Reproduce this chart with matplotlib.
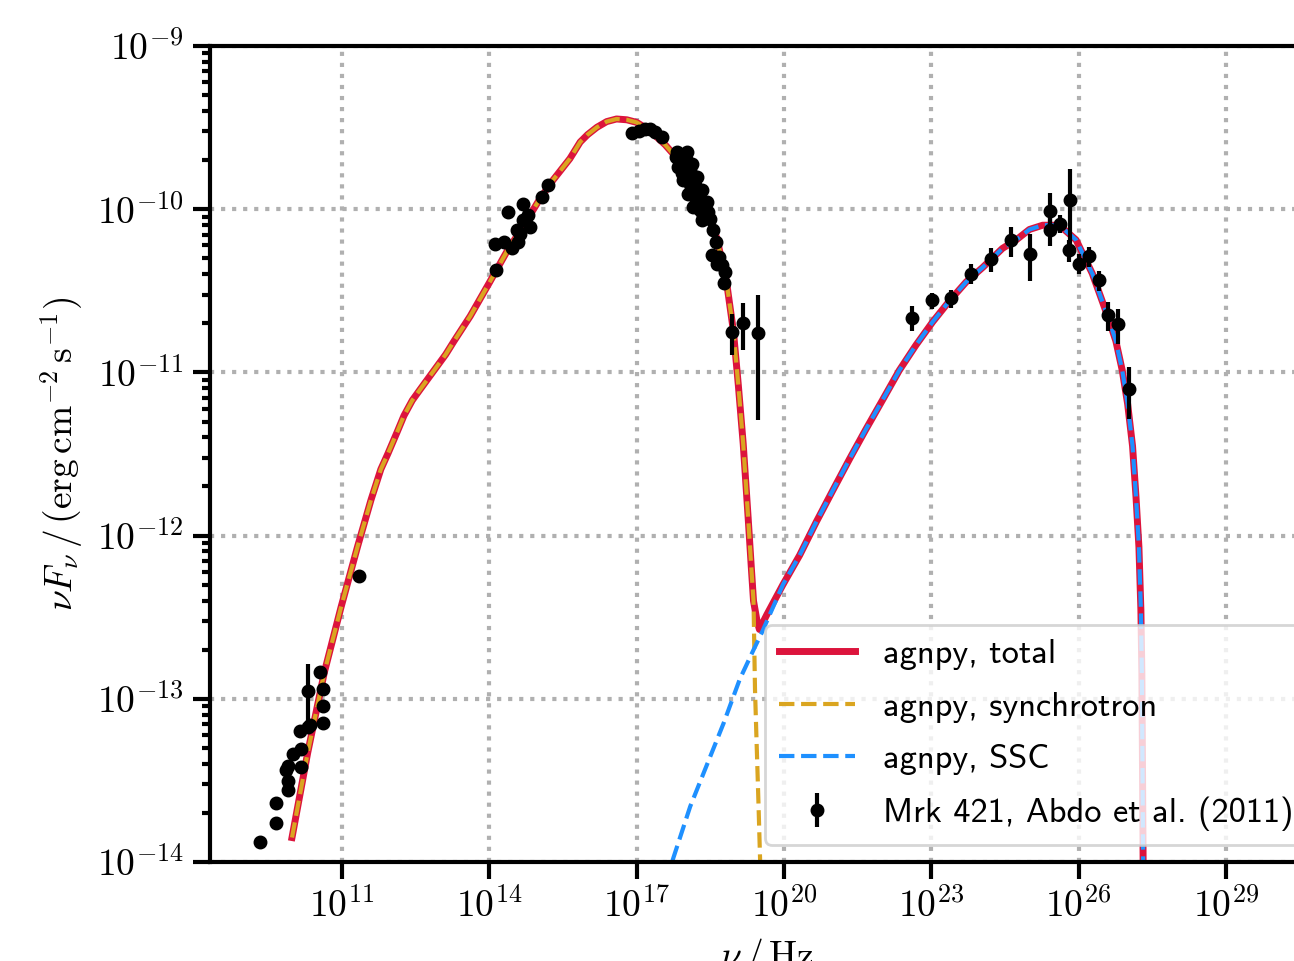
import numpy as np
import matplotlib
matplotlib.use("Agg")
import matplotlib.pyplot as plt
from matplotlib.ticker import FixedLocator, NullLocator, LogLocator, FuncFormatter

plt.rcParams["mathtext.fontset"] = "cm"
plt.rcParams["font.size"] = 13.5

# Mrk 421 SED points (log10 nu [Hz], log10 nuFnu [erg cm-2 s-1], relative error)
sed_log_nu = [
    9.33, 9.66, 9.66, 9.89, 9.89, 9.86, 9.90, 10.01, 10.16, 10.16, 10.14, 10.31, 10.35,
    10.31, 10.55, 10.62, 10.62, 10.62, 11.35,
    14.14, 14.12, 14.29, 14.46, 14.59, 14.56, 14.69, 14.79, 14.69, 14.37, 14.83, 15.07,
    15.20, 14.62,
    16.90, 17.04, 17.17, 17.27, 17.37, 17.51, 17.82, 17.88, 17.95, 17.99, 18.05, 18.09,
    18.15, 18.19, 18.26, 18.29, 18.36, 18.33, 18.49, 18.02, 18.12, 18.22, 18.33, 18.43,
    17.85, 17.95, 18.05, 18.15, 18.56, 18.61, 18.53, 18.67, 18.63, 18.73, 18.80, 18.78,
    17.80, 17.90, 17.92, 18.00, 18.08, 18.10, 18.18, 18.24, 18.27, 18.38, 18.40, 18.46,
    18.95, 19.16, 19.48,
    22.60, 23.01, 23.40, 23.80, 24.21, 24.62, 25.01, 25.42, 25.42, 25.62, 25.83, 25.81,
    26.01, 26.21, 26.42, 26.61, 26.81, 27.02,
]
sed_log_flux = [
    -13.88, -13.76, -13.64, -13.556, -13.505, -13.437, -13.41, -13.34, -13.417, -13.305,
    -13.20, -13.17, -13.16, -12.95, -12.835, -12.937, -13.045, -13.148, -12.25,
    -10.37, -10.214, -10.20, -10.235, -10.20, -10.129, -10.067, -10.037, -9.965, -10.016,
    -10.108, -9.925, -9.853, -10.149,
    -9.530, -9.520, -9.506, -9.506, -9.526, -9.557, -9.649, -9.669, -9.710, -9.751, -9.792,
    -9.843, -9.884, -9.925, -9.965, -10.006, -10.037, -10.067, -10.057, -9.649, -9.720,
    -9.802, -9.884, -9.955, -9.741, -9.822, -9.904, -9.986, -10.129, -10.20, -10.28, -10.29,
    -10.333, -10.343, -10.384, -10.455,
    -9.680, -9.700, -9.780, -9.690, -9.760, -9.880, -9.850, -9.930, -9.900, -9.970,
    -10.010, -10.020,
    -10.752, -10.697, -10.756,
    -10.664, -10.558, -10.547, -10.394, -10.306, -10.19, -10.272, -10.012, -10.129, -10.088,
    -9.941, -10.251, -10.333, -10.286, -10.435, -10.65, -10.705, -11.099,
]
sed_rel_err = (
    [0.08] * 13 + [0.45] + [0.08] * 5
    + [0.05] * 14
    + [0.03] * 48
    + [0.28, 0.32, 0.71]
    + [0.17, 0.113, 0.127, 0.141, 0.17, 0.21, 0.32, 0.30, 0.20, 0.127, 0.55, 0.155,
       0.141, 0.141, 0.141, 0.20, 0.24, 0.35]
)

# model curves
sync_log_nu = [9.98, 10.30, 10.64, 10.98, 11.32, 11.59, 11.79, 11.93, 12.13, 12.26, 12.43,
               12.60, 12.77, 12.94, 13.11, 13.28, 13.61, 14.0, 14.36, 14.7, 15.0, 15.3,
               15.64, 15.85, 16.0, 16.19, 16.39, 16.59, 16.80, 17.0, 17.2, 17.41, 17.58,
               17.75, 17.92, 18.09, 18.26, 18.43, 18.63, 18.83, 18.97, 19.07, 19.17, 19.27,
               19.34, 19.38, 19.41, 19.44, 19.48, 19.52]
sync_log_flux = [-13.85, -13.33, -12.836, -12.437, -12.062, -11.78, -11.593, -11.50,
                 -11.359, -11.265, -11.171, -11.10, -11.03, -10.96, -10.89, -10.808,
                 -10.655, -10.45, -10.257, -10.10, -9.95, -9.82, -9.69, -9.588, -9.543,
                 -9.498, -9.463, -9.447, -9.452, -9.468, -9.505, -9.558, -9.605, -9.663,
                 -9.740, -9.829, -9.920, -10.024, -10.174, -10.445, -10.745, -11.076,
                 -11.437, -11.888, -12.218, -12.40, -12.94, -13.24, -13.63, -14.05]

ssc_log_nu = [17.6, 17.72, 18.09, 18.43, 18.77, 19.10, 19.38, 19.55, 19.98, 20.32, 20.66,
              21.0, 21.34, 21.67, 22.01, 22.35, 22.69, 23.03, 23.37, 23.71, 24.05, 24.45,
              24.73, 25.0, 25.27, 25.61, 25.95, 26.28, 26.62, 26.76, 26.89, 27.0, 27.10,
              27.17, 27.23, 27.27, 27.29, 27.32]
ssc_log_flux = [-14.12, -14.0, -13.66, -13.405, -13.15, -12.88, -12.70, -12.594, -12.30,
                -12.12, -11.915, -11.72, -11.528, -11.348, -11.168, -10.987, -10.832,
                -10.69, -10.562, -10.446, -10.356, -10.24, -10.188, -10.124, -10.098,
                -10.098, -10.188, -10.394, -10.678, -10.807, -10.987, -11.193, -11.451,
                -11.76, -12.07, -12.456, -12.843, -14.2]

total_log_nu = [9.98, 10.30, 10.64, 10.98, 11.32, 11.59, 11.79, 11.93, 12.13, 12.26, 12.43,
                12.60, 12.77, 12.94, 13.11, 13.28, 13.61, 14.0, 14.36, 14.7, 15.0, 15.3,
                15.64, 15.85, 16.0, 16.19, 16.39, 16.59, 16.80, 17.0, 17.2, 17.41, 17.58,
                17.75, 17.92, 18.09, 18.26, 18.43, 18.63, 18.83, 18.97, 19.07, 19.17, 19.27,
                19.34, 19.38, 19.45, 19.50, 19.55, 19.65, 19.98, 20.32, 20.66, 21.0, 21.34,
                21.67, 22.01, 22.35, 22.69, 23.03, 23.37, 23.71, 24.05, 24.45, 24.73, 25.0,
                25.27, 25.61, 25.95, 26.28, 26.62, 26.76, 26.89, 27.0, 27.10, 27.17, 27.23,
                27.27, 27.29, 27.32]
total_log_flux = [-13.85, -13.33, -12.836, -12.437, -12.062, -11.78, -11.593, -11.50,
                  -11.359, -11.265, -11.171, -11.10, -11.03, -10.96, -10.89, -10.808,
                  -10.655, -10.45, -10.257, -10.10, -9.95, -9.82, -9.69, -9.588, -9.543,
                  -9.498, -9.463, -9.447, -9.452, -9.468, -9.505, -9.558, -9.605, -9.663,
                  -9.740, -9.829, -9.920, -10.024, -10.174, -10.445, -10.745, -11.076,
                  -11.437, -11.888, -12.218, -12.40, -12.52, -12.575, -12.545, -12.485,
                  -12.30, -12.12, -11.915, -11.72, -11.528, -11.348, -11.168, -10.987,
                  -10.832, -10.69, -10.562, -10.446, -10.356, -10.24, -10.188, -10.124,
                  -10.098, -10.098, -10.188, -10.394, -10.678, -10.807, -10.987, -11.193,
                  -11.451, -11.76, -12.07, -12.456, -12.843, -14.2]

nu = 10.0 ** np.array(sed_log_nu)
flux = 10.0 ** np.array(sed_log_flux)
flux_err = flux * np.array(sed_rel_err)

fig = plt.figure(figsize=(6.47, 4.805), dpi=200)
# axes deliberately runs past the right edge of the canvas
ax = fig.add_axes([0.1623, 0.1030, 0.8609, 0.8491])

ax.plot(10.0 ** np.array(total_log_nu), 10.0 ** np.array(total_log_flux),
        ls="-", lw=2.5, color="crimson", label="agnpy, total")
ax.plot(10.0 ** np.array(sync_log_nu), 10.0 ** np.array(sync_log_flux),
        ls="--", lw=1.5, color="goldenrod", label="agnpy, synchrotron")
ax.plot(10.0 ** np.array(ssc_log_nu), 10.0 ** np.array(ssc_log_flux),
        ls="--", lw=1.5, color="dodgerblue", label="agnpy, SSC")
ax.errorbar(nu, flux, yerr=flux_err, marker="o", ms=4, ls="", color="k",
            elinewidth=1.5, label="Mrk 421, Abdo et al. (2011)")

ax.set_xscale("log")
ax.set_yscale("log")
ax.set_xlim(10**8.31, 10**31.0)
ax.set_ylim(1e-14, 1e-9)

fmt = FuncFormatter(lambda v, pos: r"$10^{%d}$" % int(round(np.log10(v))))
ax.xaxis.set_major_locator(FixedLocator(10.0 ** np.arange(8, 33, 3)))
ax.xaxis.set_minor_locator(NullLocator())
ax.xaxis.set_major_formatter(fmt)
ax.yaxis.set_major_locator(LogLocator(base=10))
ax.yaxis.set_minor_locator(LogLocator(base=10, subs=np.arange(2, 10)))
ax.yaxis.set_major_formatter(fmt)

ax.tick_params(which="major", direction="out", length=6, width=1.5, labelsize=13.5)
ax.tick_params(which="minor", direction="out", length=3, width=1.5)
for s in ax.spines.values():
    s.set_linewidth(1.5)

ax.grid(True, which="major", ls=":", lw=1.5, color="#b0b0b0")

ax.set_xlabel(r"$\nu\,/\,{\rm Hz}$", fontsize=13.5)
ax.set_ylabel(r"$\nu F_{\nu}\,/\,({\rm erg}\,{\rm cm}^{-2}\,{\rm s}^{-1})$", fontsize=13.5)

ax.legend(loc="lower right", prop={"family": ["cmss10", "DejaVu Sans"], "size": 12.4},
          labelspacing=0.62, handlelength=2.2, handletextpad=0.8)

fig.savefig("out.png", dpi=200)
